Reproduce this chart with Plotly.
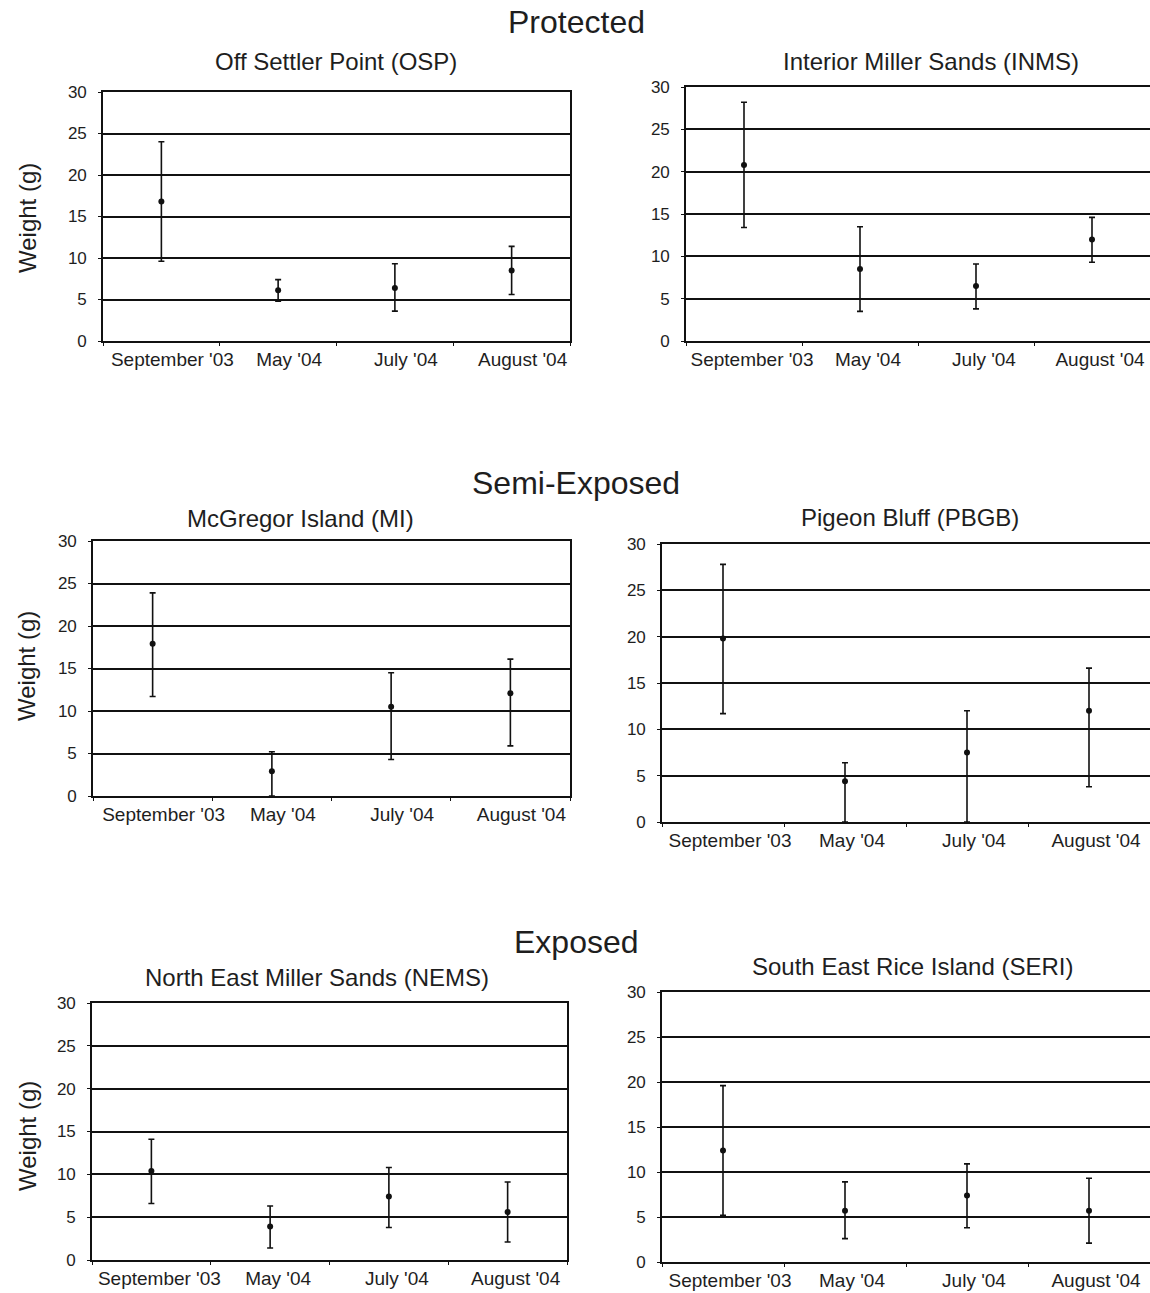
import plotly.graph_objects as go

W, H = 1150, 1293

months = ["September '03", "May '04", "July '04", "August '04"]

osp_mean = [16.8, 6.1, 6.4, 8.5]
osp_up = [7.2, 1.3, 2.9, 2.9]
osp_dn = [7.2, 1.3, 2.8, 2.9]

inms_mean = [20.8, 8.5, 6.5, 12.0]
inms_up = [7.4, 5.0, 2.6, 2.6]
inms_dn = [7.4, 5.0, 2.7, 2.7]

mi_mean = [17.9, 2.9, 10.5, 12.1]
mi_up = [6.0, 2.3, 4.0, 4.0]
mi_dn = [6.2, 2.9, 6.2, 6.2]

pbgb_mean = [19.8, 4.4, 7.5, 12.0]
pbgb_up = [8.0, 2.0, 4.5, 4.6]
pbgb_dn = [8.1, 4.4, 7.5, 8.2]

nems_mean = [10.4, 3.9, 7.4, 5.6]
nems_up = [3.7, 2.4, 3.4, 3.5]
nems_dn = [3.8, 2.5, 3.6, 3.5]

seri_mean = [12.4, 5.7, 7.4, 5.7]
seri_up = [7.2, 3.2, 3.5, 3.6]
seri_dn = [7.2, 3.1, 3.6, 3.6]

y_ticks = [0, 5, 10, 15, 20, 25, 30]

panels = [
    ("Off Settler Point (OSP)", osp_mean, osp_up, osp_dn, (103, 570, 92, 341), (336, 62), 11),
    ("Interior Miller Sands (INMS)", inms_mean, inms_up, inms_dn, (686, 1150, 87, 341), (931, 62), 8),
    ("McGregor Island (MI)", mi_mean, mi_up, mi_dn, (93, 570, 541, 796), (300, 518), 11),
    ("Pigeon Bluff (PBGB)", pbgb_mean, pbgb_up, pbgb_dn, (662, 1150, 544, 822), (910, 517), 7),
    ("North East Miller Sands (NEMS)", nems_mean, nems_up, nems_dn, (92, 567, 1003, 1260), (317, 977), 8),
    ("South East Rice Island (SERI)", seri_mean, seri_up, seri_dn, (662, 1150, 992, 1262), (912, 967), 7),
]

sections = [("Protected", 576, 22), ("Semi-Exposed", 576, 483), ("Exposed", 576, 942)]
ylabels_y = [218, 666, 1136]

FONT = "Liberation Sans, Arial, Helvetica, sans-serif"
TXT = "#1e1e1e"

fig = go.Figure()
annotations = []
layout_axes = {}

for i, (name, mean, up, dn, (x0, x1, y0, y1), (tx, ty), shift) in enumerate(panels):
    n = i + 1
    xa = "x" if n == 1 else f"x{n}"
    ya = "y" if n == 1 else f"y{n}"
    fig.add_trace(go.Scatter(
        x=months, y=mean, xaxis=xa, yaxis=ya, mode="markers",
        marker=dict(color="#111111", size=6, symbol="circle"),
        error_y=dict(type="data", symmetric=False, array=up, arrayminus=dn,
                     color="#111111", thickness=1.6, width=3),
        showlegend=False, cliponaxis=True, hoverinfo="skip",
    ))
    layout_axes[f"xaxis{'' if n == 1 else n}"] = dict(
        domain=[x0 / W, min(x1 / W, 1.0)], anchor=ya, type="category",
        range=[-0.5, 3.5], showgrid=False, zeroline=False,
        showline=True, linecolor="#111111", linewidth=1.6, mirror=True,
        ticks="outside", tickson="boundaries", ticklen=3, tickcolor="#111111",
        tickangle=0, automargin=False,
        tickfont=dict(family=FONT, size=19, color=TXT), fixedrange=True,
        ticklabelstandoff=0, ticklabelshift=shift,
    )
    layout_axes[f"yaxis{'' if n == 1 else n}"] = dict(
        domain=[1 - y1 / H, 1 - y0 / H], anchor=xa, range=[0, 30],
        tickvals=y_ticks, showgrid=True, gridcolor="#111111", gridwidth=1.6,
        zeroline=False, showline=True, linecolor="#111111", linewidth=1.6,
        mirror=True, ticks="outside", ticklen=3, tickcolor="#111111",
        automargin=False,
        tickfont=dict(family=FONT, size=17, color=TXT), fixedrange=True,
        ticklabelstandoff=8,
    )
    annotations.append(dict(
        text=name, x=tx / W, y=1 - ty / H, xref="paper", yref="paper",
        xanchor="center", yanchor="middle", showarrow=False,
        font=dict(family=FONT, size=24, color=TXT),
    ))

for text, sx, sy in sections:
    annotations.append(dict(
        text=text, x=sx / W, y=1 - sy / H, xref="paper", yref="paper",
        xanchor="center", yanchor="middle", showarrow=False,
        font=dict(family=FONT, size=32, color=TXT),
    ))

for yy in ylabels_y:
    annotations.append(dict(
        text="Weight (g)", x=27 / W, y=1 - yy / H, xref="paper", yref="paper",
        xanchor="center", yanchor="middle", showarrow=False, textangle=-90,
        font=dict(family=FONT, size=24, color=TXT),
    ))

fig.update_layout(
    width=W, height=H,
    margin=dict(l=0, r=0, t=0, b=0, pad=0, autoexpand=False),
    paper_bgcolor="white", plot_bgcolor="white",
    annotations=annotations, **layout_axes,
)

fig.write_html(
    "out.html",
    config={"displayModeBar": False},
    post_script="document.body.style.margin='0';document.body.style.overflow='hidden';",
)
